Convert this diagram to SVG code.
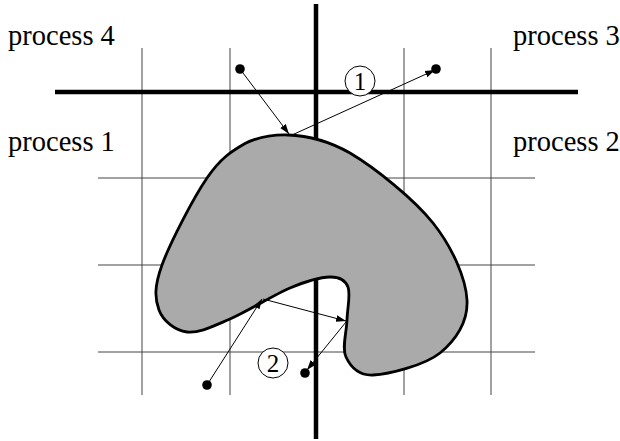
<svg xmlns="http://www.w3.org/2000/svg" width="620" height="441" viewBox="0 0 620 441">
<style>
.grid{stroke:#444;stroke-width:1;fill:none}
.axis{stroke:#000;stroke-width:4.5;fill:none}
.blob{fill:#aaaaaa;stroke:#000;stroke-width:2.8;stroke-linejoin:round}
.arr{stroke:#000;stroke-width:1;fill:none;marker-end:url(#ah)}
.dot{fill:#000}
.lbl{font-family:"Liberation Serif","DejaVu Serif",serif;font-size:28.5px;fill:#000}
.num{font-family:"Liberation Serif","DejaVu Serif",serif;font-size:25px;fill:#000;text-anchor:middle}
.circ{fill:#fff;stroke:#000;stroke-width:1}
</style>
<defs>
<marker id="ah" markerUnits="userSpaceOnUse" markerWidth="11" markerHeight="8" refX="10" refY="4" orient="auto">
<path d="M0,0.6 L10,4 L0,7.4 Z" fill="#000"/>
</marker>
</defs>
<g id="grid">
<line class="grid" x1="142" y1="48" x2="142" y2="395"/>
<line class="grid" x1="230" y1="48" x2="230" y2="395"/>
<line class="grid" x1="404" y1="48" x2="404" y2="395"/>
<line class="grid" x1="491" y1="48" x2="491" y2="395"/>
<line class="grid" x1="98" y1="178" x2="535" y2="178"/>
<line class="grid" x1="98" y1="265" x2="535" y2="265"/>
<line class="grid" x1="98" y1="352" x2="535" y2="352"/>
</g>
<g id="axes">
<line class="axis" x1="316" y1="4" x2="316" y2="439"/>
<line class="axis" x1="55" y1="92" x2="578" y2="92"/>
</g>
<g id="region">
<path class="blob" d="M288,135 C305,135.5 327,140 350,153 C374.7,167.7 413.5,198.5 433,223 C452.5,247.5 465.8,278.3 467,300 C468.2,321.7 455.7,340.5 440,353 C424.3,365.5 388.7,374.3 373,375 C357.3,375.7 350.3,366.2 346,357 C341.7,347.8 346.7,331.7 347,320 C347.3,308.3 350.8,294.2 348,287 C345.2,279.8 339.7,276.8 330,277 C320.3,277.2 306.7,281 290,288 C273.3,295 247.2,311.7 230,319 C212.8,326.3 198.8,333.5 187,332 C175.2,330.5 163.2,321.2 159,310 C154.8,298.8 154,287 162,265 C170,243 193.2,198.2 207,178 C220.8,157.8 232,151 245,143.5 C258,137 270,134.5 288,135 Z"/>
</g>
<g id="labels">
<text class="lbl" x="8" y="45">process 4</text>
<text class="lbl" x="513" y="45">process 3</text>
<text class="lbl" x="8" y="151">process 1</text>
<text class="lbl" x="513" y="151">process 2</text>
</g>
<g id="connectors">
<line class="arr" x1="240" y1="69" x2="289" y2="134"/>
<line class="arr" x1="292" y1="135" x2="435" y2="70"/>
<line class="arr" x1="207" y1="385" x2="262" y2="299"/>
<line class="arr" x1="263" y1="299" x2="346" y2="321"/>
<line class="arr" x1="346" y1="322" x2="307" y2="370"/>
</g>
<g id="points">
<circle class="dot" cx="240" cy="69" r="4.8"/>
<circle class="dot" cx="436" cy="69" r="4.8"/>
<circle class="dot" cx="207" cy="385" r="4.8"/>
<circle class="dot" cx="305" cy="373" r="4.8"/>
</g>
<g id="mark1">
<circle class="circ" cx="360" cy="81" r="15"/>
<text class="num" x="360" y="90">1</text>
</g>
<g id="mark2">
<circle class="circ" cx="273" cy="363" r="15"/>
<text class="num" x="273" y="372">2</text>
</g>
</svg>
